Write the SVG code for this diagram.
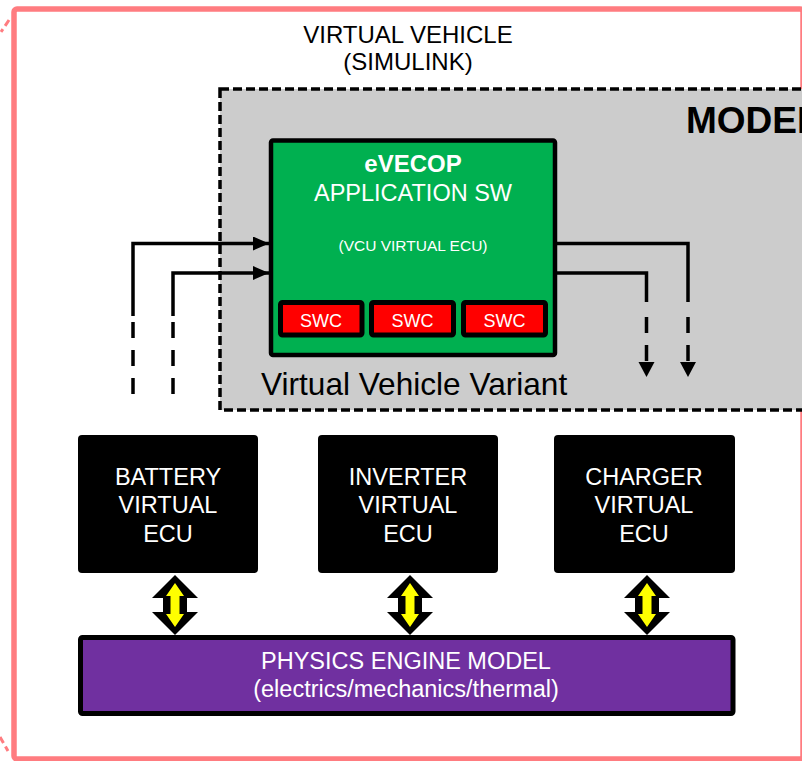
<svg xmlns="http://www.w3.org/2000/svg" width="802" height="761" viewBox="0 0 802 761">
  <style>
    text { font-family: "Liberation Sans", Arial, sans-serif; }
    .w { fill: #ffffff; text-anchor: middle; }
    .k { fill: #000000; }
    .ecu { fill: #000000; }
    .swc { fill: #ff0000; stroke: #000000; stroke-width: 5; }
    .wire { fill: none; stroke: #000000; stroke-width: 3.5; }
    .wire-dash { fill: none; stroke: #000000; stroke-width: 3.5; stroke-dasharray: 16 12; }
    .dbl-out { fill: #000000; }
    .dbl-in { fill: #ffff00; }
  </style>
  <defs>
    <marker id="head" viewBox="0 0 16 14" refX="16" refY="7" markerWidth="16" markerHeight="14" markerUnits="userSpaceOnUse" orient="auto">
      <path d="M0,0 L16,7 L0,14 Z" fill="#000000"/>
    </marker>
  </defs>

  <rect width="802" height="761" fill="#ffffff"/>

  <!-- outer frame -->
  <g id="frame">
    <rect x="14" y="9" width="789" height="750" rx="3" fill="none" stroke="#ff7c80" stroke-width="5.5"/>
    <line x1="9" y1="20" x2="1" y2="32" stroke="#ff7c80" stroke-width="3" stroke-dasharray="7 4"/>
    <line x1="0" y1="737" x2="8" y2="751" stroke="#ff7c80" stroke-width="3" stroke-dasharray="7 4"/>
    <text x="408" y="43" class="k" font-size="24" text-anchor="middle">VIRTUAL VEHICLE</text>
    <text x="408" y="70" class="k" font-size="24" text-anchor="middle">(SIMULINK)</text>
  </g>

  <!-- model area -->
  <g id="model-area">
    <rect x="220" y="89" width="600" height="321" fill="#cccccc" stroke="#000000" stroke-width="3.5" stroke-dasharray="9 4"/>
    <text x="686" y="133" class="k" font-size="37" font-weight="bold">MODEL</text>
    <text x="261" y="395" class="k" font-size="31.6">Virtual Vehicle Variant</text>
  </g>

  <!-- application software -->
  <g id="app-sw">
    <rect x="271" y="140.5" width="284" height="214.5" rx="2" fill="#00b050" stroke="#000000" stroke-width="4.5"/>
    <text x="413" y="172" class="w" font-size="24" font-weight="bold">eVECOP</text>
    <text x="413" y="201" class="w" font-size="23.5">APPLICATION SW</text>
    <text x="413" y="251" class="w" font-size="15.5">(VCU VIRTUAL ECU)</text>
  </g>
  <g id="swc-1">
    <rect x="280.5" y="302.5" width="81.5" height="32.5" rx="2" class="swc"/>
    <text x="321" y="327" class="w" font-size="18">SWC</text>
  </g>
  <g id="swc-2">
    <rect x="371.5" y="302.5" width="82" height="32.5" rx="2" class="swc"/>
    <text x="412.5" y="327" class="w" font-size="18">SWC</text>
  </g>
  <g id="swc-3">
    <rect x="463.5" y="302.5" width="82" height="32.5" rx="2" class="swc"/>
    <text x="504.5" y="327" class="w" font-size="18">SWC</text>
  </g>

  <!-- virtual ECUs -->
  <g id="battery-ecu">
    <rect x="78" y="435" width="180" height="138" rx="4" class="ecu"/>
    <text x="168" y="485" class="w" font-size="23.5">BATTERY</text>
    <text x="168" y="513" class="w" font-size="23.5">VIRTUAL</text>
    <text x="168" y="542" class="w" font-size="23.5">ECU</text>
  </g>
  <g id="inverter-ecu">
    <rect x="318" y="435" width="180" height="138" rx="4" class="ecu"/>
    <text x="408" y="485" class="w" font-size="23.5">INVERTER</text>
    <text x="408" y="513" class="w" font-size="23.5">VIRTUAL</text>
    <text x="408" y="542" class="w" font-size="23.5">ECU</text>
  </g>
  <g id="charger-ecu">
    <rect x="554" y="435" width="181" height="138" rx="4" class="ecu"/>
    <text x="644" y="485" class="w" font-size="23.5">CHARGER</text>
    <text x="644" y="513" class="w" font-size="23.5">VIRTUAL</text>
    <text x="644" y="542" class="w" font-size="23.5">ECU</text>
  </g>

  <!-- physics engine -->
  <g id="physics-engine">
    <rect x="80.5" y="637.5" width="652.5" height="76" rx="2" fill="#7030a0" stroke="#000000" stroke-width="5"/>
    <text x="406" y="669" class="w" font-size="23.5">PHYSICS ENGINE MODEL</text>
    <text x="406" y="697" class="w" font-size="23.5">(electrics/mechanics/thermal)</text>
  </g>

  <!-- signal connectors -->
  <g id="connectors">
    <path class="wire" d="M133,316 V243.5 H269" marker-end="url(#head)"/>
    <line class="wire-dash" x1="133" y1="322" x2="133" y2="394"/>
    <path class="wire" d="M173,316 V273 H269" marker-end="url(#head)"/>
    <line class="wire-dash" x1="173" y1="322" x2="173" y2="394"/>

    <path class="wire" d="M557,243.5 H688 V302"/>
    <line class="wire-dash" x1="688" y1="317" x2="688" y2="362"/>
    <path d="M680,362 L696,362 L688,377 Z" fill="#000000"/>
    <path class="wire" d="M557,273 H646.5 V302"/>
    <line class="wire-dash" x1="646.5" y1="317" x2="646.5" y2="362"/>
    <path d="M638.5,362 L654.5,362 L646.5,377 Z" fill="#000000"/>

    <!-- double-headed links to the physics engine -->
    <g transform="translate(175,0)">
      <path class="dbl-out" d="M0,575 L23,598 L12,598 L12,612 L23,612 L0,635 L-23,612 L-12,612 L-12,598 L-23,598 Z"/>
      <path class="dbl-in" d="M0,583 L9,596 L4.5,596 L4.5,614 L9,614 L0,627 L-9,614 L-4.5,614 L-4.5,596 L-9,596 Z"/>
    </g>
    <g transform="translate(410,0)">
      <path class="dbl-out" d="M0,575 L23,598 L12,598 L12,612 L23,612 L0,635 L-23,612 L-12,612 L-12,598 L-23,598 Z"/>
      <path class="dbl-in" d="M0,583 L9,596 L4.5,596 L4.5,614 L9,614 L0,627 L-9,614 L-4.5,614 L-4.5,596 L-9,596 Z"/>
    </g>
    <g transform="translate(647,0)">
      <path class="dbl-out" d="M0,575 L23,598 L12,598 L12,612 L23,612 L0,635 L-23,612 L-12,612 L-12,598 L-23,598 Z"/>
      <path class="dbl-in" d="M0,583 L9,596 L4.5,596 L4.5,614 L9,614 L0,627 L-9,614 L-4.5,614 L-4.5,596 L-9,596 Z"/>
    </g>
  </g>
</svg>
